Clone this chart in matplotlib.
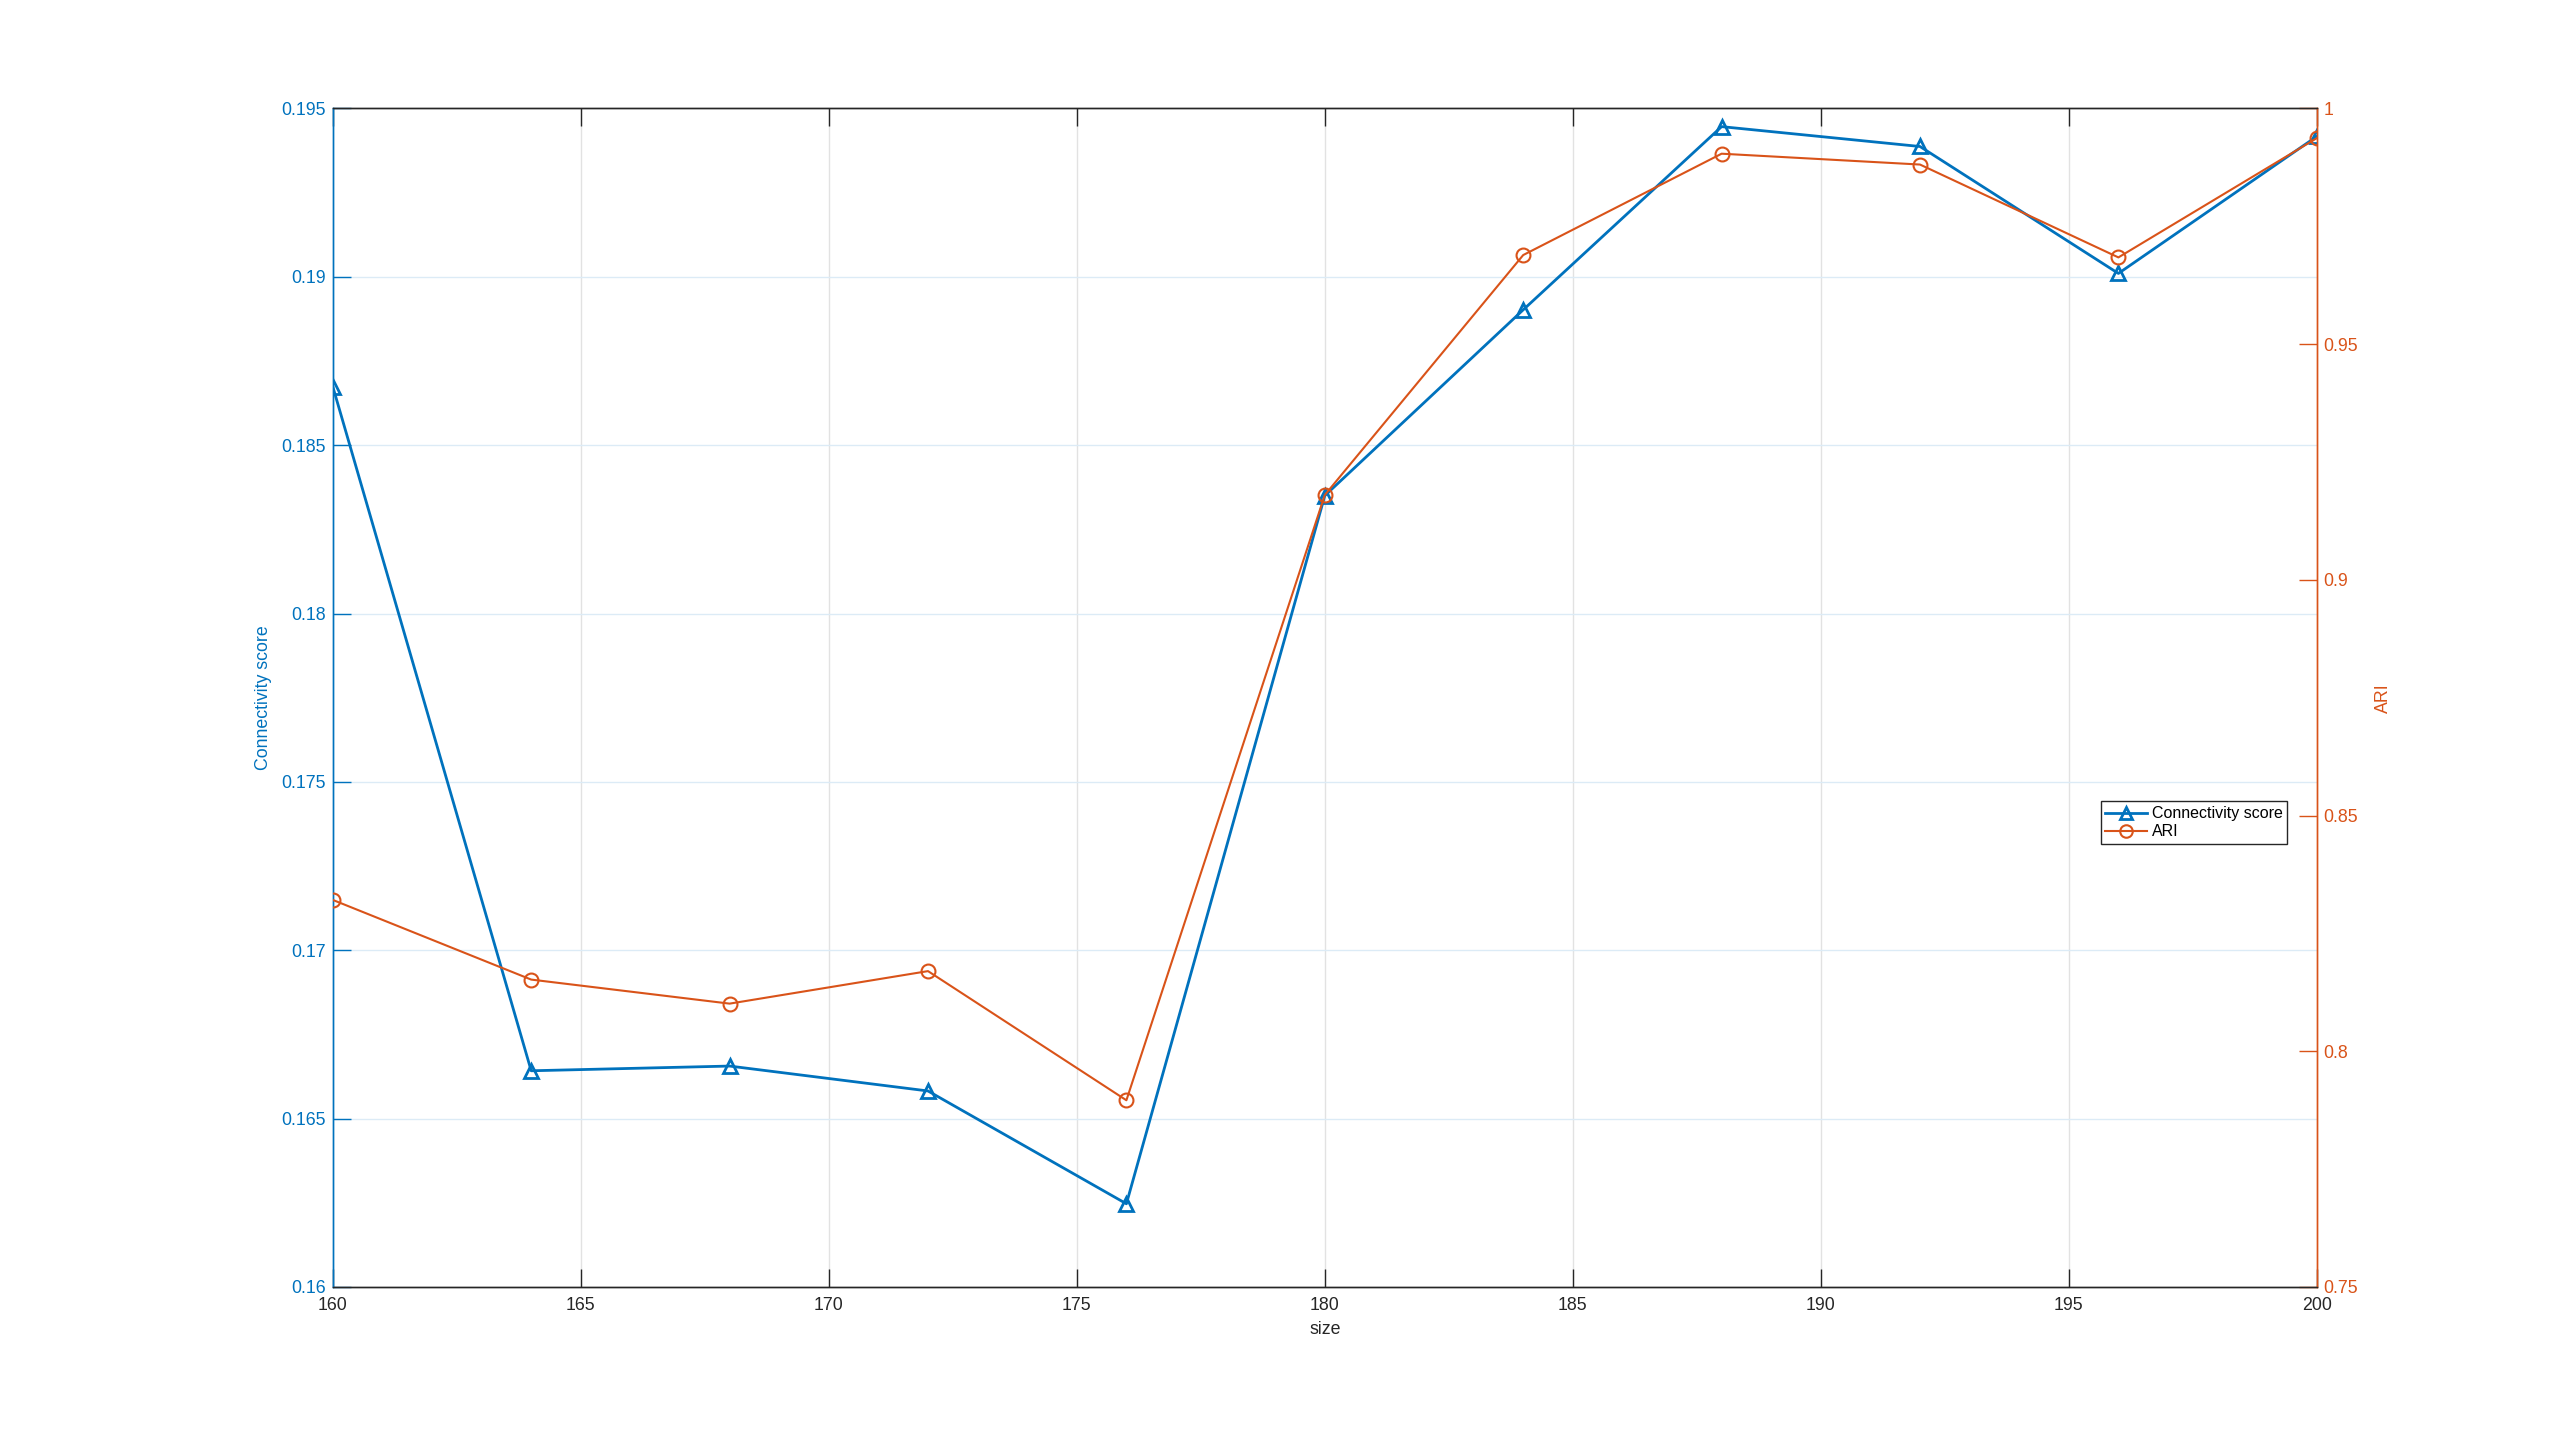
import matplotlib
matplotlib.use("Agg")
import matplotlib.pyplot as plt
from matplotlib.lines import Line2D

plt.rcParams['font.family'] = ['Liberation Sans', 'DejaVu Sans']

sizes = [160, 164, 168, 172, 176, 180, 184, 188, 192, 196, 200]
connectivity = [0.18674, 0.16642, 0.16656, 0.16582, 0.16247, 0.18350,
                0.18902, 0.19446, 0.19387, 0.19010, 0.19417]
ari = [0.8321, 0.8152, 0.8101, 0.8170, 0.7896, 0.9180,
       0.9689, 0.9904, 0.9881, 0.9684, 0.9937]

x_ticks = [160, 165, 170, 175, 180, 185, 190, 195, 200]
left_ticks = [0.16, 0.165, 0.17, 0.175, 0.18, 0.185, 0.19, 0.195]
left_labels = ['0.16', '0.165', '0.17', '0.175', '0.18', '0.185', '0.19', '0.195']
right_ticks = [0.75, 0.8, 0.85, 0.9, 0.95, 1.0]
right_labels = ['0.75', '0.8', '0.85', '0.9', '0.95', '1']

blue = '#0072BD'
orange = '#D95319'
fs = 12.8

fig = plt.figure(figsize=(25.6, 14.46), dpi=100)
ax = fig.add_axes([0.13, 0.11, 0.775, 0.815])
ax2 = ax.twinx()

ax.plot(sizes, connectivity, color=blue, lw=2.0, marker='^', ms=10,
        mfc='none', mec=blue, mew=2.0, zorder=3)
ax2.plot(sizes, ari, color=orange, lw=1.5, marker='o', ms=10,
         mfc='none', mec=orange, mew=1.5, zorder=3)

ax.set_xlim(160, 200)
ax.set_ylim(0.16, 0.195)
ax2.set_ylim(0.75, 1.0)

ax.set_xticks(x_ticks)
ax.set_xticklabels([str(t) for t in x_ticks])
ax.set_yticks(left_ticks)
ax.set_yticklabels(left_labels)
ax2.set_yticks(right_ticks)
ax2.set_yticklabels(right_labels)

# grids
for t in x_ticks[1:-1]:
    ax.axvline(t, color='#E2E2E2', lw=1.0, zorder=0)
for t in left_ticks[1:-1]:
    ax.axhline(t, color='#DCEBF6', lw=1.0, zorder=0)

ax.tick_params(axis='x', direction='in', length=13, width=1.0, colors='#262626',
               labelsize=fs, top=True, pad=7)
ax.tick_params(axis='y', direction='in', length=13, width=1.0, colors=blue,
               labelsize=fs, pad=5)
ax2.tick_params(axis='y', direction='in', length=13, width=1.0, colors=orange,
                labelsize=fs, pad=5)

for a in (ax, ax2):
    a.spines['top'].set_color('#262626')
    a.spines['bottom'].set_color('#262626')
    a.spines['left'].set_color(blue)
    a.spines['right'].set_color(orange)
    for s in a.spines.values():
        s.set_linewidth(1.0)
ax2.patch.set_visible(False)

ax.set_xlabel('size', fontsize=fs, color='#262626', labelpad=5)
ax.set_ylabel('Connectivity score', fontsize=fs, color=blue, labelpad=7)
ax2.set_ylabel('ARI', fontsize=fs, color=orange, labelpad=12)

handles = [
    Line2D([], [], color=blue, lw=2.0, marker='^', ms=9, mfc='none', mec=blue, mew=2.0),
    Line2D([], [], color=orange, lw=1.5, marker='o', ms=9, mfc='none', mec=orange, mew=1.5),
]
leg = ax2.legend(handles, ['Connectivity score', 'ARI'], loc='upper left',
                 bbox_to_anchor=(0.891, 0.412), fontsize=11.5, frameon=True,
                 fancybox=False, framealpha=1.0, edgecolor='#262626',
                 borderpad=0.3, labelspacing=0.2, handlelength=2.6,
                 handletextpad=0.3, borderaxespad=0.0)
leg.get_frame().set_linewidth(1.0)
leg.set_zorder(10)

fig.savefig('out.png', dpi=100, facecolor='white')
